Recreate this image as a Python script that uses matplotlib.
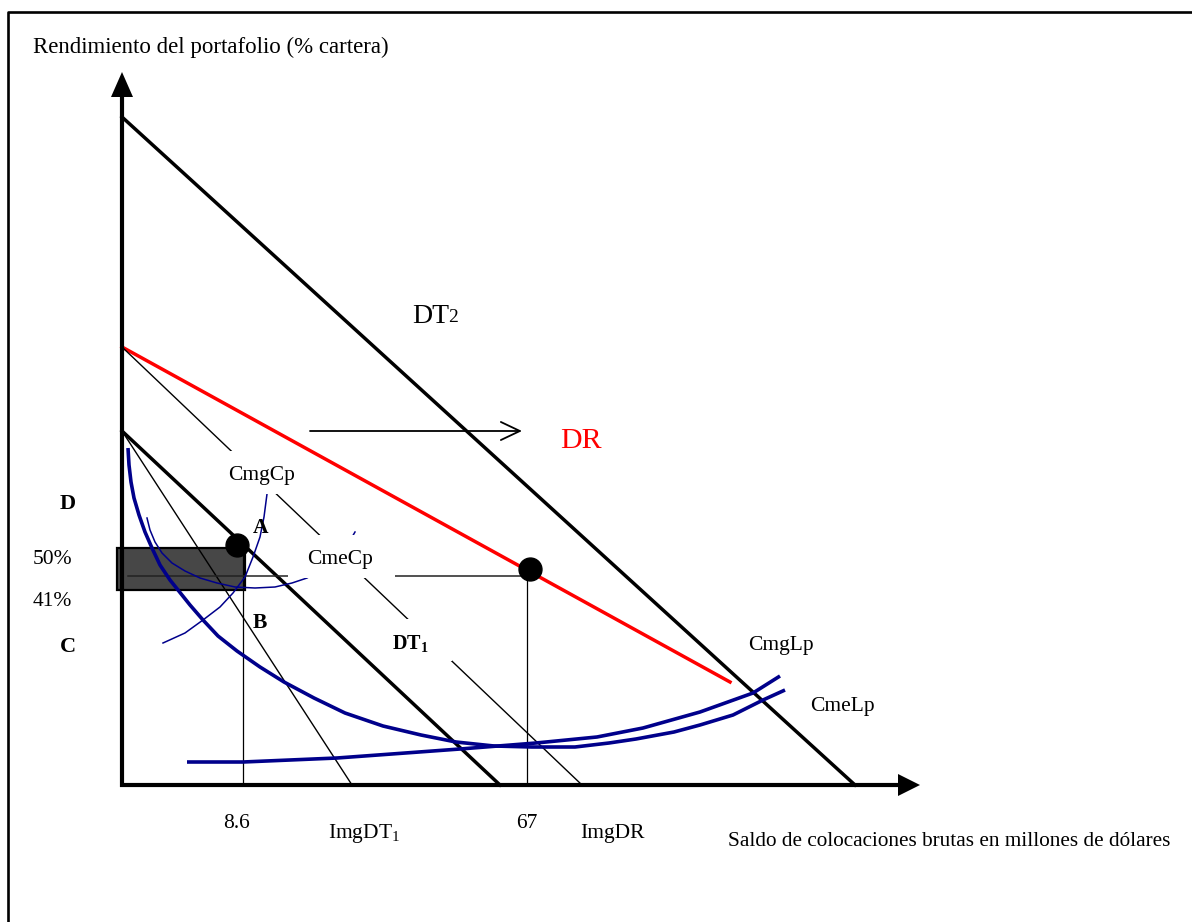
import matplotlib
matplotlib.use('Agg')
import matplotlib.pyplot as plt
from matplotlib.patches import Polygon, Rectangle

plt.rcParams['font.family'] = ['Liberation Serif', 'DejaVu Serif']
plt.rcParams['mathtext.fontset'] = 'custom'
plt.rcParams['mathtext.rm'] = 'Liberation Serif'
plt.rcParams['mathtext.it'] = 'Liberation Serif:italic'
plt.rcParams['mathtext.bf'] = 'Liberation Serif:bold'
plt.rcParams['mathtext.default'] = 'regular'

# ---------------- data (schematic units: origin at the axes corner) ----------------
# demand lines
dt2_x = [0, 733]
dt2_y = [668, 0]
dr_x = [0, 608]
dr_y = [438, 103]
dt1_x = [0, 378]
dt1_y = [354, 0]
# marginal income lines
img_dt1_x = [0, 230]
img_dt1_y = [354, 0]
img_dr_x = [0, 460]
img_dr_y = [438, 0]

# short-run cost curves (thin)
cmgcp_x = [41, 63, 81, 98, 111, 123, 131, 138, 142, 145]
cmgcp_y = [142, 152, 165, 178, 192, 208, 228, 248, 268, 291]
cmecp_x = [25, 28, 33, 40, 50, 63, 78, 95, 113, 133, 153, 170, 185, 200, 215, 226, 233]
cmecp_y = [267, 255, 243, 232, 222, 214, 207, 202, 198, 197, 198, 202, 207, 216, 229, 241, 253]

# long-run cost curves (thick)
cmelp_x = [6, 7, 9, 12, 17, 23, 30, 38, 48, 56, 68, 81, 96, 115, 138, 162, 192, 223, 261,
           299, 334, 372, 410, 453, 487, 514, 552, 578, 611, 641, 663]
cmelp_y = [337, 320, 303, 287, 270, 253, 237, 220, 205, 195, 180, 165, 149, 134, 118, 103,
           87, 72, 59, 50, 43, 39, 38, 38, 42, 46, 53, 60, 70, 85, 95]
cmglp_x = [65, 121, 215, 338, 414, 475, 521, 578, 631, 658]
cmglp_y = [23, 23, 27, 36, 42, 48, 57, 73, 92, 109]

# equilibrium points
point_a = (115, 240)
point_dr = (408, 216)
q_a, q_dr = 121, 405
rate_line_y = 209
rate_box = (-5, 195, 128, 42)   # x, y, width, height of shaded area

# tick labels
xtick_labels = ['8.6', '67']
xtick_pos = [101, 394]

# ---------------- figure ----------------
fig = plt.figure(figsize=(11.92, 9.22), dpi=100)
ax = fig.add_axes([0, 0, 1, 1])
ax.set_xlim(-122, 1070)
ax.set_ylim(-137, 785)
ax.axis('off')

# outer frame
ax.plot([-114, -114, 1080], [-150, 773, 773], color='black', lw=1.9, clip_on=False,
        solid_capstyle='butt')

# axes with arrows
ax.plot([0, 0], [-1.5, 690], color='black', lw=3.0, solid_capstyle='butt', zorder=3)
ax.plot([-1.5, 778], [0, 0], color='black', lw=3.0, solid_capstyle='butt', zorder=3)
ax.add_patch(Polygon([(-11, 688), (11, 688), (0, 713)], closed=True, fc='black', ec='none', zorder=3))
ax.add_patch(Polygon([(776, -11), (776, 11), (798, 0)], closed=True, fc='black', ec='none', zorder=3))

# shaded rectangle
ax.add_patch(Rectangle(rate_box[:2], rate_box[2], rate_box[3], fc='#474747', ec='black',
                       lw=1.6, zorder=2))

# demand lines
ax.plot(dt2_x, dt2_y, color='black', lw=2.5, zorder=2.5)
ax.plot(dt1_x, dt1_y, color='black', lw=2.5, zorder=2.5)
ax.plot(dr_x, dr_y, color='#ff0000', lw=2.5, zorder=2.5)

# marginal income lines
ax.plot(img_dt1_x, img_dt1_y, color='black', lw=1.0, zorder=2.6)
ax.plot(img_dr_x, img_dr_y, color='black', lw=1.0, zorder=2.6)

# guide lines
ax.plot([q_a, q_a], [0, 238], color='black', lw=0.9, zorder=2.6)
ax.plot([q_dr, q_dr], [0, point_dr[1]], color='black', lw=0.9, zorder=2.6)
ax.plot([6, point_dr[0]], [rate_line_y, rate_line_y], color='#222222', lw=1.1, zorder=2.6)

# cost curves
navy = '#00008b'
ax.plot(cmgcp_x, cmgcp_y, color=navy, lw=1.1, zorder=2.7, solid_joinstyle='round')
ax.plot(cmecp_x, cmecp_y, color=navy, lw=1.1, zorder=2.7, solid_joinstyle='round')
ax.plot(cmelp_x, cmelp_y, color=navy, lw=2.6, zorder=2.7, solid_capstyle='butt',
        solid_joinstyle='round')
ax.plot(cmglp_x, cmglp_y, color=navy, lw=2.6, zorder=2.7, solid_capstyle='butt',
        solid_joinstyle='round')

# white label backgrounds
for (mx, my, mw, mh) in [(98, 291, 80, 43), (166, 207, 107, 43), (262, 124, 68, 42)]:
    ax.add_patch(Rectangle((mx, my), mw, mh, fc='white', ec='none', zorder=4))

# shift arrow
ax.annotate('', xy=(400, 354), xytext=(188, 354),
            arrowprops=dict(arrowstyle='->,head_length=13.7,head_width=6.5', mutation_scale=1,
                            lw=1.3, color='black', shrinkA=0, shrinkB=0), zorder=3)

# points
ax.plot(*point_a, 'o', color='black', ms=16.5, zorder=5)
ax.plot(*point_dr, 'o', color='black', ms=16.5, zorder=5)

# ---------------- texts ----------------
fs = 15.5
def t(x, y, s, size=fs, **kw):
    ax.text(x, y, s, fontsize=size, ha='left', va='baseline', zorder=6, **kw)

t(-89, 732, 'Rendimiento del portafolio (% cartera)', size=16.5)
t(606, -61, 'Saldo de colocaciones brutas en millones de dólares', size=15.3)
t(290, 462, 'DT', size=20)
t(326, 463, '2', size=14)
t(438, 337, 'DR', size=21.5, color='#ff0000')
t(106, 305, 'CmgCp')
t(185, 221, 'CmeCp')
t(131, 252, 'A', weight='bold')
t(131, 157, 'B', weight='bold')
t(-62, 276, 'D', weight='bold', size=16)
t(-62, 133, 'C', weight='bold', size=16)
t(-89, 221, '50%')
t(-89, 179, '41%')
t(270, 136, r'$\mathbf{DT}_{\mathbf{1}}$', size=14.5)
t(626, 135, 'CmgLp')
t(688, 74, 'CmeLp')
for lab, xp in zip(xtick_labels, xtick_pos):
    t(xp, -43, lab)
t(206, -53, 'ImgDT$_1$')
t(458, -53, 'ImgDR')

fig.savefig('out.png', dpi=100)
